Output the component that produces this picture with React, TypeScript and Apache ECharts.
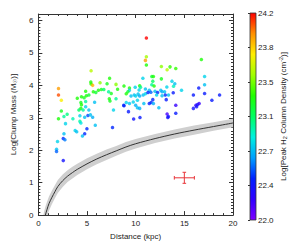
import React, { useEffect, useRef } from 'react';
import * as echarts from 'echarts';

// Clump sample: distance (kpc), log clump mass (Msun), log peak H2 column density (cm^-2)
const distance = [
  2.07, 2.07, 2.36, 2.36, 2.07, 2.63, 2.96, 2.79, 3.55, 2.63, 2.56, 2.73, 1.97, 1.87, 1.87, 2.56,
  5.42, 5.39, 5.42, 5.58, 6.34, 7.32, 7.06, 7.98, 8.80, 4.86, 5.65, 5.91, 6.17, 6.47, 6.73, 7.22,
  7.49, 8.14, 4.43, 4.70, 4.93, 5.19, 4.00, 4.37, 4.43, 4.86, 5.78, 7.29, 7.36, 7.98, 4.37, 4.17,
  4.60, 4.86, 5.19, 7.72, 8.80, 4.27, 4.76, 5.09, 5.35, 5.58, 4.27, 4.37, 5.85, 4.99, 3.78, 3.94,
  4.76, 4.53, 7.62,
  11.10, 11.10, 11.00, 11.10, 12.64, 13.53, 13.23, 14.12, 16.75, 17.08, 10.74, 11.66, 11.82, 12.64,
  11.76, 11.66, 11.89, 9.36, 9.36, 9.20, 9.03, 9.95, 10.41, 10.50, 10.35, 11.00, 11.40, 11.56,
  11.99, 12.25, 12.58, 12.71, 12.97, 13.20, 13.73, 13.89, 14.02, 14.71, 13.86, 13.37, 13.04, 12.71,
  12.15, 9.85, 10.00, 10.25, 10.41, 10.77, 11.00, 11.26, 9.52, 9.03, 8.77, 9.36, 9.75, 10.00,
  10.18, 10.18, 10.41, 10.84, 11.40, 11.59, 11.82, 11.76, 12.38, 13.14, 14.12, 9.26, 9.79, 10.44,
  13.23, 13.30, 13.36, 14.12, 15.93, 16.48, 17.08, 17.08, 16.19, 16.36, 16.52, 15.93, 16.26, 17.83,
  18.62
];
const logMass = [
  3.90, 3.70, 3.54, 3.21, 2.97, 3.04, 3.11, 2.82, 2.97, 2.51, 2.36, 2.32, 2.27, 2.03, 1.96, 1.68,
  4.45, 4.10, 4.04, 4.00, 4.08, 4.22, 4.05, 4.03, 3.98, 3.82, 3.80, 3.78, 3.85, 3.87, 3.87, 3.80,
  3.75, 3.88, 3.65, 3.62, 3.68, 3.70, 3.60, 3.47, 3.40, 3.50, 3.48, 3.59, 3.52, 3.59, 3.29, 3.24,
  3.24, 3.34, 3.24, 3.24, 3.37, 3.06, 3.02, 3.07, 3.09, 3.02, 2.89, 2.84, 2.77, 2.66, 2.61, 2.57,
  2.51, 2.44, 2.70,
  5.46, 4.88, 4.77, 4.63, 4.58, 4.57, 4.48, 4.52, 4.80, 4.27, 4.22, 4.27, 4.27, 4.20,
  4.13, 4.02, 3.98, 3.92, 3.85, 3.80, 3.74, 3.94, 3.99, 3.94, 3.86, 3.89, 3.85, 3.79,
  3.82, 3.78, 3.85, 3.80, 3.80, 3.95, 4.13, 3.97, 4.05, 3.85, 3.77, 3.70, 3.70, 3.68,
  3.70, 3.70, 3.67, 3.73, 3.67, 3.70, 3.74, 3.78, 3.67, 3.47, 3.39, 3.44, 3.49, 3.39,
  3.54, 3.31, 3.29, 3.44, 3.44, 3.47, 3.44, 3.56, 3.31, 3.56, 3.39, 3.19, 2.96, 3.01,
  3.12, 3.01, 3.04, 3.14, 3.70, 3.92, 4.02, 3.75, 3.39, 3.41, 3.44, 3.29, 3.34, 3.54,
  3.70
];
const logNH2 = [
  23.95, 24.08, 23.75, 23.25, 23.30, 23.00, 23.05, 22.80, 22.95, 22.75, 22.45, 22.60, 22.80, 22.75, 22.55, 22.35,
  23.60, 23.30, 23.35, 23.90, 23.50, 23.30, 23.25, 23.50, 23.30, 23.30, 23.30, 23.20, 23.30, 23.25, 23.10, 23.00,
  23.25, 23.30, 23.30, 23.25, 23.30, 23.20, 23.30, 23.25, 23.30, 23.00, 22.75, 23.30, 23.25, 23.00, 23.30, 23.10,
  23.00, 22.80, 22.75, 22.80, 22.40, 22.80, 22.75, 22.50, 22.75, 22.70, 23.00, 22.85, 22.75, 22.45, 22.80, 22.75,
  22.45, 22.75, 22.45,
  24.20, 23.55, 23.95, 23.30, 23.50, 23.35, 23.60, 23.35, 23.30, 22.80, 22.80, 23.20, 23.30, 23.25,
  23.10, 23.00, 23.30, 23.30, 22.80, 23.20, 23.30, 22.80, 23.30, 23.00, 22.80, 22.75, 22.75, 22.55,
  22.75, 22.45, 22.75, 22.70, 22.75, 22.80, 22.80, 22.95, 22.75, 22.80, 22.40, 22.75, 22.45, 22.75,
  22.80, 22.75, 22.80, 22.75, 22.70, 22.75, 22.80, 22.45, 22.75, 22.80, 22.45, 22.75, 22.80, 22.70,
  22.80, 22.75, 22.70, 22.75, 22.40, 22.45, 22.70, 22.45, 22.75, 22.40, 22.20, 22.40, 22.35, 22.40,
  22.15, 22.35, 22.35, 22.40, 22.40, 22.40, 22.75, 22.40, 22.20, 22.35, 22.20, 22.35, 22.35, 22.40,
  22.40
];

// Completeness limit curve with its uncertainty band
const limitDistance = [0.5, 0.6, 0.72, 0.9, 1.1, 1.4, 1.7, 2.0, 2.5, 3.0, 3.5, 4, 5, 6, 7, 8, 9, 10, 12, 14, 16, 18, 20];
const limitLogMass = [-0.32, -0.16, 0, 0.18, 0.36, 0.55, 0.72, 0.88, 1.06, 1.2, 1.31, 1.41, 1.58, 1.73, 1.86, 1.98, 2.1, 2.2, 2.36, 2.5, 2.62, 2.73, 2.84];
const bandLower = [-0.62, -0.44, -0.26, -0.06, 0.14, 0.34, 0.52, 0.68, 0.87, 1.02, 1.13, 1.24, 1.41, 1.57, 1.70, 1.83, 1.95, 2.05, 2.22, 2.36, 2.48, 2.60, 2.71];
const bandUpper = [-0.02, 0.12, 0.26, 0.42, 0.58, 0.76, 0.92, 1.08, 1.25, 1.38, 1.49, 1.58, 1.75, 1.89, 2.02, 2.13, 2.25, 2.35, 2.50, 2.64, 2.76, 2.86, 2.97];

// Typical error bar
const errX = [15];
const errY = [1.15];
const errXHalf = [1.03];
const errYHalf = [0.17];

// Colour scale
const cbMin = 22.0;
const cbMax = 24.2;
const cbTickCount = 6;
const rainbow = ['#7f00ff', '#3000ff', '#0020ff', '#00a0ff', '#00f0e0', '#00ff60', '#20ff00', '#a0ff00', '#ffee00', '#ff9000', '#ff0000'];

const FONT = 'Liberation Sans, Arial, Helvetica, sans-serif';
const TXT = '#222';

export default function App() {
  const ref = useRef<HTMLDivElement>(null);
  useEffect(() => {
    if (!ref.current) return;
    const chart = echarts.init(ref.current, undefined, { renderer: 'svg' });
    const pts = distance.map((d, i) => [d, logMass[i], logNH2[i]]);
    const curveData = limitDistance.map((d, i) => [d, limitLogMass[i]]);
    const errData = errX.map((x, i) => [x, errY[i], errXHalf[i], errYHalf[i]]);

    const plotLeft = 30, plotTop = 14, plotW = 203, plotH = 206;
    const cbLeft = 250, cbTop = 13, cbW = 6, cbH = 207;

    const axisLine = { show: true, onZero: false, lineStyle: { color: '#333', width: 1 } };
    const labelStyle = { fontSize: 8, color: TXT, fontFamily: FONT };

    const xCommon = {
      gridIndex: 0, type: 'value', min: 0, max: 20, interval: 5,
      axisLine,
      axisTick: { show: true, inside: true, length: 4, lineStyle: { color: '#333' } },
      minorTick: { show: true, splitNumber: 5, length: 2, lineStyle: { color: '#333' } },
      splitLine: { show: false },
    };
    const yCommon = {
      gridIndex: 0, type: 'value', min: 0, max: 6.2, interval: 1,
      axisLine,
      axisTick: { show: true, inside: true, length: 4, lineStyle: { color: '#333' } },
      minorTick: { show: true, splitNumber: 10, length: 2, lineStyle: { color: '#333' } },
      splitLine: { show: false },
    };

    chart.setOption({
      animation: false,
      textStyle: { fontFamily: FONT },
      grid: [
        { left: plotLeft, top: plotTop, width: plotW, height: plotH, containLabel: false },
        { left: cbLeft, top: cbTop, width: cbW, height: cbH, containLabel: false },
      ],
      xAxis: [
        {
          ...xCommon, position: 'bottom',
          axisLabel: { ...labelStyle, margin: 4 },
          name: 'Distance (kpc)', nameLocation: 'middle', nameGap: 13,
          nameTextStyle: { fontSize: 8, color: TXT, fontFamily: FONT },
        },
        { ...xCommon, position: 'top', axisLabel: { show: false } },
        { gridIndex: 1, type: 'value', min: 0, max: 1, show: false },
      ],
      yAxis: [
        {
          ...yCommon, position: 'left',
          axisLabel: {
            ...labelStyle, margin: 5,
            formatter: (v: number) => (Math.abs(v - Math.round(v)) < 1e-6 ? String(Math.round(v)) : ''),
          },
          name: 'Log[Clump Mass (M{sub|☉})]', nameLocation: 'middle', nameGap: 17, nameRotate: 90,
          nameTextStyle: {
            fontSize: 8, color: TXT, fontFamily: FONT, lineHeight: 10,
            rich: { sub: { fontSize: 5.5, color: TXT, fontFamily: 'DejaVu Sans', verticalAlign: 'bottom', lineHeight: 6 } },
          },
        },
        { ...yCommon, position: 'right', axisLabel: { show: false } },
        {
          gridIndex: 1, type: 'value', position: 'right', min: cbMin, max: cbMax,
          interval: (cbMax - cbMin) / cbTickCount,
          axisLine: { show: false },
          axisTick: { show: true, inside: true, length: 2, lineStyle: { color: '#333' } },
          splitLine: { show: false },
          axisLabel: { ...labelStyle, margin: 2, formatter: (v: number) => v.toFixed(1) },
          name: 'Log[Peak H{sub|2} Column Density (cm{sup|-2})]', nameLocation: 'middle', nameGap: 22, nameRotate: 90,
          nameTextStyle: {
            fontSize: 8, color: TXT, fontFamily: FONT, lineHeight: 10,
            rich: {
              sub: { fontSize: 5.5, color: TXT, fontFamily: FONT, verticalAlign: 'bottom', lineHeight: 6 },
              sup: { fontSize: 5.5, color: TXT, fontFamily: FONT, verticalAlign: 'top', lineHeight: 6 },
            },
          },
        },
      ],
      visualMap: {
        type: 'continuous', show: false, seriesIndex: 2, dimension: 2,
        min: cbMin, max: cbMax, inRange: { color: rainbow },
      },
      graphic: [
        {
          type: 'rect', z: -1,
          shape: { x: cbLeft, y: cbTop, width: cbW, height: cbH },
          style: {
            fill: new echarts.graphic.LinearGradient(0, 1, 0, 0,
              rainbow.map((c, i) => ({ offset: i / (rainbow.length - 1), color: c }))),
            stroke: '#333', lineWidth: 0.8,
          },
        },
      ],
      series: [
        {
          type: 'custom', xAxisIndex: 0, yAxisIndex: 0, data: [[limitDistance[0], bandLower[0]]],
          clip: true, silent: true, z: 1,
          renderItem: (_p: any, api: any) => {
            const upper = limitDistance.map((d, i) => api.coord([d, bandUpper[i]]));
            const lower = limitDistance.map((d, i) => api.coord([d, bandLower[i]])).reverse();
            return {
              type: 'polygon',
              shape: { points: upper.concat(lower), smooth: 0 },
              style: { fill: '#cfcfcf', stroke: 'none' },
            };
          },
        },
        {
          type: 'line', xAxisIndex: 0, yAxisIndex: 0, data: curveData, smooth: 0.3,
          symbol: 'none', lineStyle: { width: 1, color: '#333' }, z: 2,
        },
        {
          type: 'scatter', xAxisIndex: 0, yAxisIndex: 0, data: pts,
          symbol: 'circle', symbolSize: 3.5, z: 3,
        },
        {
          type: 'custom', xAxisIndex: 0, yAxisIndex: 0, data: errData, z: 4,
          encode: { x: 0, y: 1 },
          renderItem: (_p: any, api: any) => {
            const x = api.value(0), y = api.value(1), dx = api.value(2), dy = api.value(3);
            const l = api.coord([x - dx, y]);
            const r = api.coord([x + dx, y]);
            const t = api.coord([x, y + dy]);
            const b = api.coord([x, y - dy]);
            const cap = 1.8;
            const style = { stroke: '#e8353a', lineWidth: 1 };
            return {
              type: 'group',
              children: [
                { type: 'line', shape: { x1: l[0], y1: l[1], x2: r[0], y2: r[1] }, style },
                { type: 'line', shape: { x1: t[0], y1: t[1], x2: b[0], y2: b[1] }, style },
                { type: 'line', shape: { x1: l[0], y1: l[1] - cap, x2: l[0], y2: l[1] + cap }, style },
                { type: 'line', shape: { x1: r[0], y1: r[1] - cap, x2: r[0], y2: r[1] + cap }, style },
                { type: 'line', shape: { x1: t[0] - cap, y1: t[1], x2: t[0] + cap, y2: t[1] }, style },
                { type: 'line', shape: { x1: b[0] - cap, y1: b[1], x2: b[0] + cap, y2: b[1] }, style },
              ],
            };
          },
        },
      ],
    });
    return () => chart.dispose();
  }, []);
  return (
    <div
      ref={ref}
      style={{ position: 'absolute', left: 0, top: 0, width: 293, height: 245, background: '#fff' }}
    />
  );
}
